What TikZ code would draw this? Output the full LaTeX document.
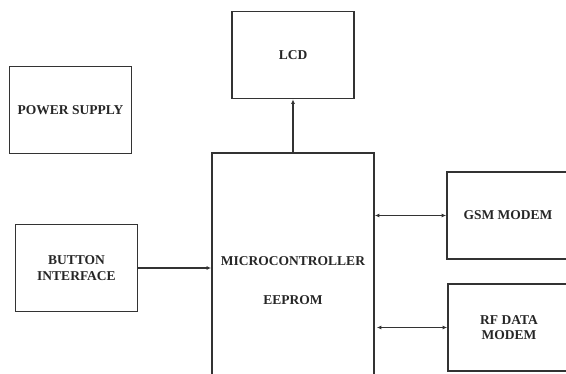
\documentclass[tikz,border=0pt]{standalone}
\usepackage{fontspec}
\setmainfont{Liberation Serif}
\usepackage{tikz}
\usetikzlibrary{arrows.meta, positioning, calc}

\begin{document}
\begin{tikzpicture}[
        x=1pt, y=-1pt,
        module/.style={rectangle, draw=black!80, line width=1.8pt, minimum width=122pt, minimum height=87pt, align=center, font=\fontsize{13.5}{15.5}\selectfont\bfseries, text=black!85, inner sep=0pt},
        arrow/.style={-{Latex[length=4.5pt, width=4pt]}, line width=1.3pt, draw=black!80},
        biarrow/.style={{Latex[length=4.5pt, width=4pt]}-{Latex[length=4.5pt, width=4pt]}, line width=1.3pt, draw=black!80}
    ]
    \clip (0,0) rectangle (566,374);

    % Blocks
    \node[module] (lcd) at (293, 55) {LCD};
    \node[module] (power) at (70.5, 110) {POWER SUPPLY};
    \node[module] (button) at (76.5, 268) {BUTTON\\INTERFACE};

    \node[module, minimum width=162pt, minimum height=255pt, font=\fontsize{13.5}{39}\selectfont\bfseries] (micro) at (293, 280.5) {MICROCONTROLLER\\EEPROM};

    \node[module] (gsm) at (508, 215.5) {GSM MODEM};
    \node[module] (rf) at (509, 327.5) {RF DATA\\MODEM};

    % Connections
    \draw[arrow] (micro.north) -- (lcd.south);
    \draw[arrow] (button.east) -- (button.east -| micro.west);
    \draw[biarrow] (micro.east |- gsm.west) -- (gsm.west);
    \draw[biarrow] ($(micro.east |- rf.west)+(2,0)$) -- (rf.west);

\end{tikzpicture}
\end{document}
